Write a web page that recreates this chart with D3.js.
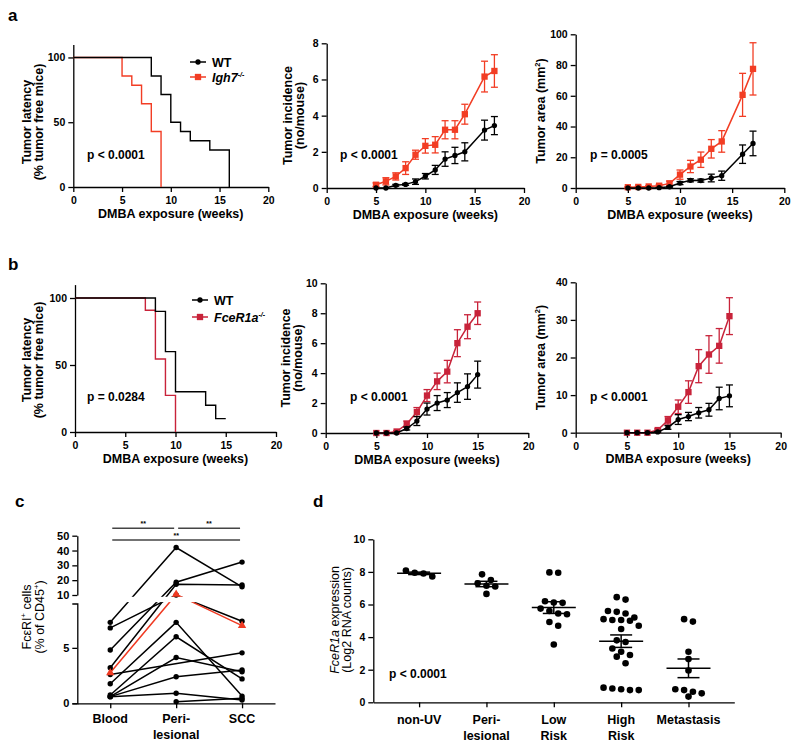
<!DOCTYPE html>
<html><head><meta charset="utf-8">
<script src="https://cdn.jsdelivr.net/npm/d3@7/dist/d3.min.js"></script>
<style>
body{margin:0;background:#fff;}
svg{display:block;}
</style></head><body>
<svg id="fig" width="800" height="749"></svg>
<script>
// ---------------- DATA ----------------
// Panel a (Igh7-/-)
const kmA_WT_t = [0, 8, 9, 10, 11, 12, 14, 16];
const kmA_WT_s = [100, 85.7, 71.4, 50, 42.9, 35.7, 28.6, 0];
const kmA_KO_t = [0, 5, 6, 7, 8, 9];
const kmA_KO_s = [100, 85.7, 78.6, 64.3, 42.9, 0];
const weeksA = [5, 6, 7, 8, 9, 10, 11, 12, 13, 14, 16, 17];
const incA_WT = [0, 0, 0.15, 0.2, 0.35, 0.65, 1.0, 1.6, 1.8, 2.0, 3.2, 3.45];
const incA_WT_err = [0, 0, 0.05, 0.05, 0.15, 0.15, 0.25, 0.4, 0.45, 0.5, 0.55, 0.5];
const incA_KO = [0.18, 0.37, 0.64, 1.1, 1.84, 2.33, 2.39, 3.22, 3.22, 4.08, 6.16, 6.47];
const incA_KO_err = [0.1, 0.2, 0.2, 0.35, 0.25, 0.4, 0.45, 0.5, 0.5, 0.55, 0.85, 0.9];
const areaA_WT = [0, 0, 0, 0.2, 0.8, 3.2, 5, 4.8, 6.5, 8, 22, 29];
const areaA_WT_err = [0, 0, 0, 0.1, 0.3, 1, 1, 1, 2.5, 3, 6, 8];
const areaA_KO = [0.5, 0.7, 1, 1.5, 3, 8.7, 14, 18.4, 25.5, 30.3, 60.6, 77.5];
const areaA_KO_err = [0.3, 0.4, 0.5, 0.8, 1.5, 3, 4, 5, 6, 7, 14, 17];

// Panel b (FceR1a-/-)
const kmB_WT_t = [0, 8, 9, 10, 13, 14, 15];
const kmB_WT_s = [100, 90, 60, 30, 20, 10, 10];
const kmB_KO_t = [0, 7, 8, 9, 10];
const kmB_KO_s = [100, 90.9, 54.5, 27.3, 0];
const weeksB = [5, 6, 7, 8, 9, 10, 11, 12, 13, 14, 15];
const incB_WT = [0, 0, 0, 0.3, 0.8, 1.6, 2.0, 2.2, 2.7, 3.1, 3.9];
const incB_WT_err = [0, 0, 0, 0.1, 0.3, 0.4, 0.5, 0.5, 0.65, 0.85, 0.9];
const incB_KO = [0, 0, 0.1, 0.6, 1.4, 2.5, 3.45, 4.1, 6.0, 7.1, 8.0];
const incB_KO_err = [0, 0, 0.05, 0.2, 0.3, 0.4, 0.55, 0.75, 0.9, 0.8, 0.75];
const areaB_WT = [0, 0, 0, 0.2, 1.4, 3.5, 4.3, 5.3, 6.1, 9.1, 9.8];
const areaB_WT_err = [0, 0, 0, 0.1, 0.5, 1.3, 1.1, 1.4, 1.7, 3, 2.9];
const areaB_KO = [0, 0, 0, 0.7, 3.3, 6.9, 10.8, 17.7, 20.8, 23.1, 31];
const areaB_KO_err = [0, 0, 0, 0.3, 1, 1.8, 3, 4.4, 5, 4.6, 4.9];

const xTicks = [0, 5, 10, 15, 20];

// Panel c (paired samples, % of CD45+)
const cCategories = ["Blood", "Peri-lesional", "SCC"];
const cBlood = [7.3, 6.8, 4.8, 3.2, 1.76, 0.75, 0.6, 2.6, 0.6, 0.6, null];
const cPeri  = [42, 10.0, 18.6, 17.3, 7.3, 6.0, 4.13, null, 2.4, 0.9, 0.15];
const cSCC   = [15.5, 7.4, 32.2, 16.7, 0.65, 2.2, 2.85, 4.55, 3.0, 0.3, 0.45];
const cRed   = [2.75, 10.4, 7.0];
const cLowTicks = [0, 5];
const cHighTicks = [10, 20, 30, 40, 50];

// Panel d (FceR1a expression, Log2 RNA counts)
const dCategories = ["non-UV", "Peri-lesional", "Low Risk", "High Risk", "Metastasis"];
const dNonUV = [8.08, 7.95, 7.72, 7.9];
const dPeri = [7.5, 7.15, 7.3, 7.85, 7.1, 6.65];
const dLow = [7.95, 7.97, 6.12, 6.1, 6.2, 5.75, 5.4, 5.45, 5.6, 4.93, 4.7, 3.55];
const dHigh = [6.3, 6.45, 5.6, 5.45, 5.55, 5.05, 5.0, 5.2, 5.05, 5.1, 4.7, 4.5, 3.8, 3.7, 3.3, 3.1, 2.8, 2.9, 2.4, 0.9, 0.85, 0.75, 0.75, 0.8];
const dMeta = [5.1, 4.95, 3.1, 2.65, 1.95, 0.8, 0.65, 0.35, 0.55, 0.75];
const dTicks = [0, 2, 4, 6, 8, 10];

// ---------------- STYLE ----------------
const FONT = '"Liberation Sans", Arial, Helvetica, sans-serif';
const RED_A = "#f23d24";
const RED_B = "#c8233a";
const RED_C = "#f03a22";
const TICK_FS = 10.5;
const TITLE_FS = 12.5;
const P_FS = 12;
const LW = 1.3;

const svg = d3.select("#fig")
  .attr("font-family", FONT).attr("font-weight", "bold");

function styleAxis(g, fs) {
  g.attr("font-family", FONT).attr("font-size", fs).attr("font-weight", "bold");
  g.select(".domain").attr("stroke", "#000").attr("stroke-width", LW);
  g.selectAll(".tick line").attr("stroke", "#000").attr("stroke-width", LW);
  g.selectAll(".tick text").attr("fill", "#000");
}

function text(x, y, str, opt = {}) {
  return svg.append("text").attr("x", x).attr("y", y)
    .attr("font-size", opt.fs || TITLE_FS)
    .attr("text-anchor", opt.anchor || "start")
    .attr("fill", "#000").text(str);
}

// rotated label made of parts {t, it, sup}
function rotLabel(x, y, parts, fs) {
  const t = svg.append("text")
    .attr("transform", `translate(${x},${y}) rotate(-90)`)
    .attr("text-anchor", "middle").attr("font-size", fs || TITLE_FS).attr("fill", "#000");
  let shifted = 0;
  parts.forEach(p => {
    const ts = t.append("tspan").text(p.t);
    if (p.it) ts.attr("font-style", "italic");
    if (p.sup) { ts.attr("font-size", (fs || TITLE_FS) * 0.6).attr("dy", -5 - shifted); shifted = -5; }
    else if (shifted !== 0) { ts.attr("dy", -shifted); shifted = 0; }
  });
  return t;
}

function panelLetter(x, y, s) {
  text(x, y, s, { fs: 17 });
}

// ---------------- GENERIC XY PANEL ----------------
function makeAxes(o) {
  const x = d3.scaleLinear().domain([0, 20]).range([o.left, o.right]);
  const y = d3.scaleLinear().domain(o.yDomain).range([o.bottom, o.top]);
  const gx = svg.append("g").attr("transform", `translate(0,${o.bottom})`)
    .call(d3.axisBottom(x).tickValues(xTicks).tickSize(5).tickSizeOuter(0).tickPadding(5));
  styleAxis(gx, TICK_FS);
  const gy = svg.append("g").attr("transform", `translate(${o.left},0)`)
    .call(d3.axisLeft(y).tickValues(o.yTicks).tickSize(5).tickSizeOuter(0).tickPadding(3));
  styleAxis(gy, TICK_FS);
  text((o.left + o.right) / 2, o.bottom + 30.5, "DMBA exposure (weeks)", { anchor: "middle" });
  return { x, y };
}

function drawSeries(sc, weeks, vals, errs, color, shape) {
  const data = weeks.map((w, i) => ({ w, v: vals[i], e: errs[i] }));
  const line = d3.line().x(d => sc.x(d.w)).y(d => sc.y(d.v));
  svg.append("path").datum(data).attr("d", line)
    .attr("fill", "none").attr("stroke", color).attr("stroke-width", 1.5);
  const eb = svg.append("g").attr("stroke", color).attr("stroke-width", LW);
  data.filter(d => d.e > 0).forEach(d => {
    const cx = sc.x(d.w), y1 = sc.y(d.v + d.e), y2 = sc.y(Math.max(0, d.v - d.e));
    eb.append("line").attr("x1", cx).attr("x2", cx).attr("y1", y1).attr("y2", y2);
    eb.append("line").attr("x1", cx - 3.5).attr("x2", cx + 3.5).attr("y1", y1).attr("y2", y1);
    eb.append("line").attr("x1", cx - 3.5).attr("x2", cx + 3.5).attr("y1", y2).attr("y2", y2);
  });
  const sym = shape === "square" ? d3.symbolSquare : d3.symbolCircle;
  const size = shape === "square" ? 40 : 22;
  svg.append("g").selectAll("path").data(data).join("path")
    .attr("transform", d => `translate(${sc.x(d.w)},${sc.y(d.v)})`)
    .attr("d", d3.symbol(sym, size)).attr("fill", color);
}

function drawKM(sc, ts, ss, color) {
  const data = ts.map((t, i) => ({ t, s: ss[i] }));
  const line = d3.line().curve(d3.curveStepAfter).x(d => sc.x(d.t)).y(d => sc.y(d.s));
  svg.append("path").datum(data).attr("d", line)
    .attr("fill", "none").attr("stroke", color).attr("stroke-width", 1.4);
}

function legendItem(x, y, color, shape, parts) {
  svg.append("line").attr("x1", x).attr("x2", x + 16).attr("y1", y).attr("y2", y)
    .attr("stroke", color).attr("stroke-width", 1.5);
  const sym = shape === "square" ? d3.symbolSquare : d3.symbolCircle;
  svg.append("path").attr("transform", `translate(${x + 8},${y})`)
    .attr("d", d3.symbol(sym, shape === "square" ? 40 : 22)).attr("fill", color);
  const t = svg.append("text").attr("x", x + 22).attr("y", y + 4.5)
    .attr("font-size", TITLE_FS).attr("fill", "#000");
  parts.forEach(p => {
    const ts = t.append("tspan").text(p.t);
    if (p.it) ts.attr("font-style", "italic");
    if (p.sup) ts.attr("font-size", 7).attr("dy", -5);
  });
}

// ---------------- ROW a ----------------
panelLetter(8, 21, "a");
{
  const sc = makeAxes({ left: 73.3, right: 268.3, bottom: 187, top: 44.5, yDomain: [0, 110], yTicks: [0, 50, 100] });
  drawKM(sc, kmA_KO_t, kmA_KO_s, RED_A);
  drawKM(sc, kmA_WT_t, kmA_WT_s, "#000");
  legendItem(190, 62, "#000", "circle", [{ t: "WT" }]);
  legendItem(190, 77, RED_A, "square", [{ t: "Igh7", it: true }, { t: "-/-", it: true, sup: true }]);
  text(87, 159, "p < 0.0001", { fs: P_FS });
  rotLabel(31, 122, [{ t: "Tumor latency" }]);
  rotLabel(43, 122, [{ t: "(% tumor free mice)" }]);
}
{
  const sc = makeAxes({ left: 326.7, right: 524, bottom: 188, top: 43.3, yDomain: [0, 8], yTicks: [0, 2, 4, 6, 8] });
  drawSeries(sc, weeksA, incA_KO, incA_KO_err, RED_A, "square");
  drawSeries(sc, weeksA, incA_WT, incA_WT_err, "#000", "circle");
  text(340, 159, "p < 0.0001", { fs: P_FS });
  rotLabel(291.5, 115.5, [{ t: "Tumor incidence" }]);
  rotLabel(304, 115.5, [{ t: "(no/mouse)" }]);
}
{
  const sc = makeAxes({ left: 575.7, right: 784.3, bottom: 188, top: 34.3, yDomain: [0, 100], yTicks: [0, 20, 40, 60, 80, 100] });
  drawSeries(sc, weeksA, areaA_KO, areaA_KO_err, RED_A, "square");
  drawSeries(sc, weeksA, areaA_WT, areaA_WT_err, "#000", "circle");
  text(590, 159, "p = 0.0005", { fs: P_FS });
  rotLabel(545, 111, [{ t: "Tumor area (mm" }, { t: "2", sup: true }, { t: ")" }]);
}

// ---------------- ROW b ----------------
panelLetter(8, 270, "b");
{
  const sc = makeAxes({ left: 75, right: 276, bottom: 432, top: 284.6, yDomain: [0, 110], yTicks: [0, 50, 100] });
  drawKM(sc, kmB_KO_t, kmB_KO_s, RED_B);
  drawKM(sc, kmB_WT_t, kmB_WT_s, "#000");
  legendItem(192, 300, "#000", "circle", [{ t: "WT" }]);
  legendItem(192, 317, RED_B, "square", [{ t: "FceR1a", it: true }, { t: "-/-", it: true, sup: true }]);
  text(87, 400.5, "p = 0.0284", { fs: P_FS });
  rotLabel(31, 360, [{ t: "Tumor latency" }]);
  rotLabel(43, 360, [{ t: "(% tumor free mice)" }]);
}
{
  const sc = makeAxes({ left: 325.7, right: 528.3, bottom: 433, top: 283.3, yDomain: [0, 10], yTicks: [0, 2, 4, 6, 8, 10] });
  drawSeries(sc, weeksB, incB_KO, incB_KO_err, RED_B, "square");
  drawSeries(sc, weeksB, incB_WT, incB_WT_err, "#000", "circle");
  text(350, 400.5, "p < 0.0001", { fs: P_FS });
  rotLabel(289.5, 358, [{ t: "Tumor incidence" }]);
  rotLabel(302, 358, [{ t: "(no/mouse)" }]);
}
{
  const sc = makeAxes({ left: 575.7, right: 780.7, bottom: 432.7, top: 282.3, yDomain: [0, 40], yTicks: [0, 10, 20, 30, 40] });
  drawSeries(sc, weeksB, areaB_KO, areaB_KO_err, RED_B, "square");
  drawSeries(sc, weeksB, areaB_WT, areaB_WT_err, "#000", "circle");
  text(590, 400.5, "p < 0.0001", { fs: P_FS });
  rotLabel(545, 357.5, [{ t: "Tumor area (mm" }, { t: "2", sup: true }, { t: ")" }]);
}

// ---------------- PANEL c ----------------
panelLetter(15, 507, "c");
{
  const left = 77.3, right = 275, bottom = 703.3;
  const lowTop = 603.5, highBottom = 595, top = 535.7;
  const x = d3.scalePoint().domain(cCategories).range([left, right]).padding(0.5);
  const y = d3.scaleLinear().domain([0, 9, 10, 50]).range([bottom, lowTop, highBottom, top]);
  const yLow = d3.scaleLinear().domain([0, 9]).range([bottom, lowTop]);
  const yHigh = d3.scaleLinear().domain([10, 50]).range([highBottom, top]);

  const gx = svg.append("g").attr("transform", `translate(0,${bottom})`)
    .call(d3.axisBottom(x).tickSize(5).tickSizeOuter(0).tickFormat(""));
  styleAxis(gx, TICK_FS);
  const gl = svg.append("g").attr("transform", `translate(${left},0)`)
    .call(d3.axisLeft(yLow).tickValues(cLowTicks).tickSize(5).tickSizeOuter(5).tickPadding(3));
  styleAxis(gl, 11);
  const gh = svg.append("g").attr("transform", `translate(${left},0)`)
    .call(d3.axisLeft(yHigh).tickValues(cHighTicks).tickSize(5).tickSizeOuter(0).tickPadding(3));
  styleAxis(gh, 11);

  const cLabelLines = { "Blood": ["Blood"], "Peri-lesional": ["Peri-", "lesional"], "SCC": ["SCC"] };
  cCategories.forEach(c => {
    cLabelLines[c].forEach((s, i) => text(x(c), 723 + i * 16, s, { anchor: "middle" }));
  });

  const subjects = cBlood.map((b, i) => [b, cPeri[i], cSCC[i]]);
  const line = d3.line().x(d => x(d.c)).y(d => y(d.v));
  const toPts = arr => arr.map((v, j) => ({ c: cCategories[j], v })).filter(d => d.v != null);
  const lg = svg.append("g");
  subjects.forEach(s => {
    lg.append("path").attr("d", line(toPts(s))).attr("fill", "none")
      .attr("stroke", "#000").attr("stroke-width", 1.5);
  });
  lg.append("path").attr("d", line(toPts(cRed))).attr("fill", "none")
    .attr("stroke", RED_C).attr("stroke-width", 1.5);
  // axis break gap across the plotted lines
  svg.append("rect").attr("x", left + 1).attr("y", highBottom + 1.8)
    .attr("width", right - left + 5).attr("height", lowTop - highBottom - 3.2).attr("fill", "#fff");
  const pg = svg.append("g");
  subjects.forEach(s => {
    toPts(s).forEach(d => pg.append("circle").attr("cx", x(d.c)).attr("cy", y(d.v)).attr("r", 2.7).attr("fill", "#000"));
  });
  toPts(cRed).forEach(d => pg.append("path")
    .attr("transform", `translate(${x(d.c)},${y(d.v)})`)
    .attr("d", d3.symbol(d3.symbolTriangle, 30)).attr("fill", RED_C));

  // significance bars
  const sb = svg.append("g").attr("stroke", "#444").attr("stroke-width", 1.4);
  const yb1 = 528.3, yb2 = 540;
  sb.append("line").attr("x1", x("Blood") + 2).attr("x2", x("Peri-lesional") - 2).attr("y1", yb1).attr("y2", yb1);
  sb.append("line").attr("x1", x("Peri-lesional") + 2).attr("x2", x("SCC") - 2).attr("y1", yb1).attr("y2", yb1);
  sb.append("line").attr("x1", x("Blood") + 2).attr("x2", x("SCC") - 2).attr("y1", yb2).attr("y2", yb2);
  text((x("Blood") + x("Peri-lesional")) / 2, yb1 - 2.5, "**", { fs: 7, anchor: "middle" });
  text((x("Peri-lesional") + x("SCC")) / 2, yb1 - 2.5, "**", { fs: 7, anchor: "middle" });
  text(x("Peri-lesional"), yb2 - 2.5, "**", { fs: 7, anchor: "middle" });

  const t1 = rotLabel(31, 617, [{ t: "Fc" }, { t: "ε" }, { t: "RI" }, { t: "+", sup: true }, { t: " cells" }]);
  t1.attr("font-weight", "normal");
  const t2 = rotLabel(43.5, 617, [{ t: "(% of CD45" }, { t: "+", sup: true }, { t: ")" }]);
  t2.attr("font-weight", "normal");
}

// ---------------- PANEL d ----------------
panelLetter(313, 507, "d");
{
  const left = 373.3, right = 734.3, bottom = 702.3, top = 539.3;
  const x = d3.scalePoint().domain(dCategories).range([left, right]).padding(0.68);
  const y = d3.scaleLinear().domain([0, 10]).range([bottom, top]);
  const gx = svg.append("g").attr("transform", `translate(0,${bottom})`)
    .call(d3.axisBottom(x).tickSize(5).tickSizeOuter(0).tickFormat(""));
  styleAxis(gx, TICK_FS);
  const gy = svg.append("g").attr("transform", `translate(${left},0)`)
    .call(d3.axisLeft(y).tickValues(dTicks).tickSize(5).tickSizeOuter(0).tickPadding(3));
  styleAxis(gy, TICK_FS);

  const labelLines = {
    "non-UV": ["non-UV"], "Peri-lesional": ["Peri-", "lesional"],
    "Low Risk": ["Low", "Risk"], "High Risk": ["High", "Risk"], "Metastasis": ["Metastasis"]
  };
  dCategories.forEach(c => labelLines[c].forEach((s, i) => text(x(c), 724 + i * 15.5, s, { anchor: "middle" })));

  const groups = [dNonUV, dPeri, dLow, dHigh, dMeta];
  const r = 3.3, spacing = 8.8, rowPx = 6.6;
  groups.forEach((vals, gi) => {
    const cx = x(dCategories[gi]);
    const sorted = vals.slice().sort((a, b) => b - a);
    // group into horizontal rows (GraphPad style), then centre each row
    const rows = [];
    sorted.forEach(v => {
      const last = rows[rows.length - 1];
      if (last && (y(v) - y(last[0])) <= rowPx) last.push(v); else rows.push([v]);
    });
    const g = svg.append("g");
    rows.forEach(row => {
      row.forEach((v, i) => {
        g.append("circle").attr("cx", cx + (i - (row.length - 1) / 2) * spacing)
          .attr("cy", y(v)).attr("r", r).attr("fill", "#000");
      });
    });
    const m = d3.mean(vals);
    const sem = d3.deviation(vals) / Math.sqrt(vals.length);
    const eg = svg.append("g").attr("stroke", "#000").attr("stroke-width", 1.5);
    eg.append("line").attr("x1", cx - 22).attr("x2", cx + 22).attr("y1", y(m)).attr("y2", y(m));
    eg.append("line").attr("x1", cx).attr("x2", cx).attr("y1", y(m + sem)).attr("y2", y(m - sem));
    eg.append("line").attr("x1", cx - 11).attr("x2", cx + 11).attr("y1", y(m + sem)).attr("y2", y(m + sem));
    eg.append("line").attr("x1", cx - 11).attr("x2", cx + 11).attr("y1", y(m - sem)).attr("y2", y(m - sem));
  });

  text(389, 678, "p < 0.0001", { fs: P_FS });
  const t1 = rotLabel(338.5, 620, [{ t: "FceR1a", it: true }, { t: " expression" }]);
  t1.attr("font-weight", "normal");
  const t2 = rotLabel(350.5, 620, [{ t: "(Log2 RNA counts)" }]);
  t2.attr("font-weight", "normal");
}
</script>
</body></html>
